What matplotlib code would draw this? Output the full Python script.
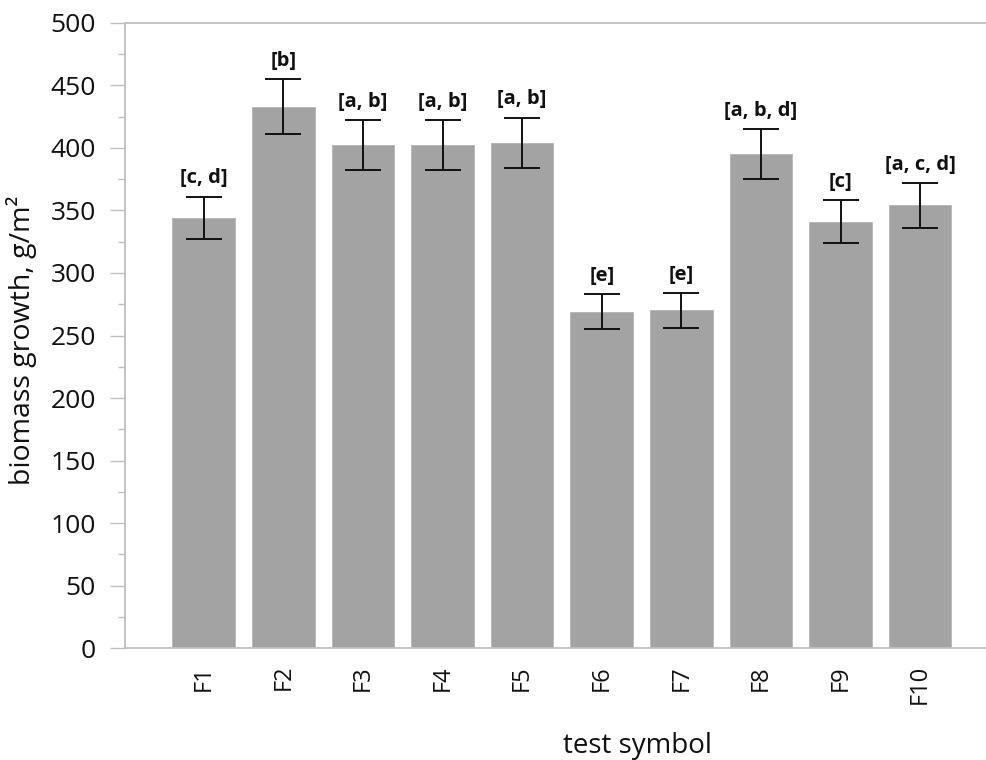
import numpy as np
import matplotlib
matplotlib.use("Agg")
import matplotlib.pyplot as plt
from matplotlib.ticker import MultipleLocator

plt.rcParams["font.family"] = ["Open Sans", "DejaVu Sans"]

# data
tests = ["F1", "F2", "F3", "F4", "F5", "F6", "F7", "F8", "F9", "F10"]
growth = [344, 433, 402, 402, 404, 269, 270, 395, 341, 354]
err = [17, 22, 20, 20, 20, 14, 14, 20, 17, 18]
groups = ["[c, d]", "[b]", "[a, b]", "[a, b]", "[a, b]", "[e]", "[e]",
          "[a, b, d]", "[c]", "[a, c, d]"]

grey_axis = "#bfbfbf"
text_col = "#111111"

fig = plt.figure(figsize=(9.87, 7.6), dpi=100)
ax = fig.add_axes([125 / 987, 111.7 / 760, 1 - 125 / 987, 625.6 / 760])

x = np.arange(len(tests))
ax.bar(x, growth, width=0.787, color="#a3a3a3", edgecolor="#b5b5b5", linewidth=0.6, zorder=2)
ax.errorbar(x, growth, yerr=err, fmt="none", ecolor="#111111", elinewidth=1.4,
            capsize=13.3, capthick=1.4, zorder=3)

# significance group letters above each error bar
for xi, g, e, lab in zip(x, growth, err, groups):
    ax.annotate(lab, (xi, g + e), xytext=(0, 6), textcoords="offset points",
                ha="center", va="bottom", fontsize=14.5, fontweight="bold", color=text_col)

ax.set_xlim(-0.99, 9.84)
ax.set_ylim(0, 500)
ax.yaxis.set_major_locator(MultipleLocator(50))
ax.yaxis.set_minor_locator(MultipleLocator(25))
ax.set_xticks(x)
ax.set_xticklabels(tests, rotation=90, fontsize=17, color=text_col)

ax.tick_params(axis="y", which="major", direction="out", length=11, width=1,
               color=grey_axis, labelsize=19, labelcolor=text_col, pad=10)
ax.tick_params(axis="y", which="minor", direction="out", length=5, width=1, color=grey_axis)
ax.tick_params(axis="x", length=0, pad=12)

for side in ["left", "bottom", "top"]:
    ax.spines[side].set_color(grey_axis)
    ax.spines[side].set_linewidth(1.3)
ax.spines["right"].set_visible(False)

ax.set_ylabel("biomass growth, g/m²", fontsize=20.5, color=text_col)
ax.yaxis.set_label_coords(-0.102, 0.493)
ax.set_xlabel("test symbol", fontsize=20, color=text_col)
ax.xaxis.set_label_coords(0.594, -0.133)

fig.savefig("out.png", dpi=100)
